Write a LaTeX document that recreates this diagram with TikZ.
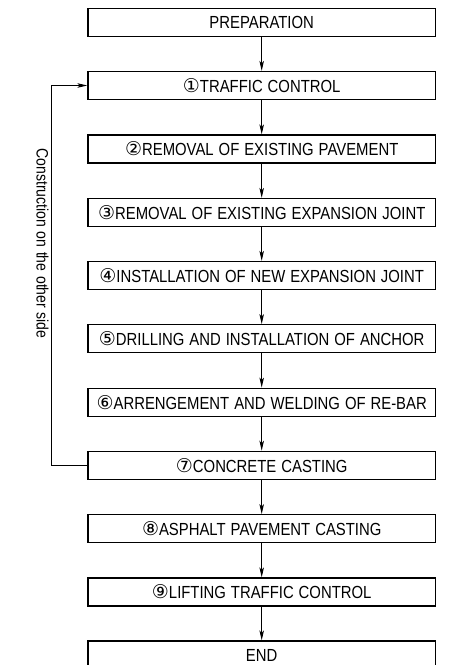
\documentclass[tikz,border=0pt]{standalone}
\usepackage{fontspec}
\setmainfont{Liberation Sans}[FakeStretch=0.85,WordSpace=1.2]
\newfontfamily\circfont{DejaVu Sans}
\usetikzlibrary{arrows.meta}
\newcommand{\cnum}[1]{{\circfont\fontsize{19}{19}\selectfont #1}}

\begin{document}
\begin{tikzpicture}[x=1pt,y=1pt,>={Stealth[length=10pt,width=4.5pt,inset=2.5pt]},
    stage/.style={draw,line width=1.2pt,minimum width=347.5pt,minimum height=28pt,inner sep=0pt,font=\fontsize{17.5}{20}\selectfont},
    flow/.style={->,line width=1pt}]
    \useasboundingbox (0,0) rectangle (456,-665);

    \node[stage] (prep) at (261.7,-22.2) {PREPARATION};
    \node[stage] (s1) at (261.7,-85.5) {\cnum{①}TRAFFIC CONTROL};
    \node[stage] (s2) at (261.7,-149) {\cnum{②}REMOVAL OF EXISTING PAVEMENT};
    \node[stage] (s3) at (261.7,-212.5) {\cnum{③}REMOVAL OF EXISTING EXPANSION JOINT};
    \node[stage] (s4) at (261.7,-275.5) {\cnum{④}INSTALLATION OF NEW EXPANSION JOINT};
    \node[stage] (s5) at (261.7,-338.7) {\cnum{⑤}DRILLING AND INSTALLATION OF ANCHOR};
    \node[stage] (s6) at (261.7,-402.2) {\cnum{⑥}ARRENGEMENT AND WELDING OF RE-BAR};
    \node[stage] (s7) at (261.7,-465.3) {\cnum{⑦}CONCRETE CASTING};
    \node[stage] (s8) at (261.7,-528.7) {\cnum{⑧}ASPHALT PAVEMENT CASTING};
    \node[stage] (s9) at (261.7,-592) {\cnum{⑨}LIFTING TRAFFIC CONTROL};
    \node[stage] (fin) at (261.7,-655) {END};

    \draw[flow] (prep) -- (s1);
    \draw[flow] (s1) -- (s2);
    \draw[flow] (s2) -- (s3);
    \draw[flow] (s3) -- (s4);
    \draw[flow] (s4) -- (s5);
    \draw[flow] (s5) -- (s6);
    \draw[flow] (s6) -- (s7);
    \draw[flow] (s7) -- (s8);
    \draw[flow] (s8) -- (s9);
    \draw[flow] (s9) -- (fin);

    % back to traffic control
    \draw[flow] (s7.west) -- ++(-36.3,0) |- (s1.west);
    \node[rotate=-90,font=\fontsize{16.5}{18}\selectfont] (side) at (42.5,-243.5) {Construction on the other side};
\end{tikzpicture}
\end{document}
